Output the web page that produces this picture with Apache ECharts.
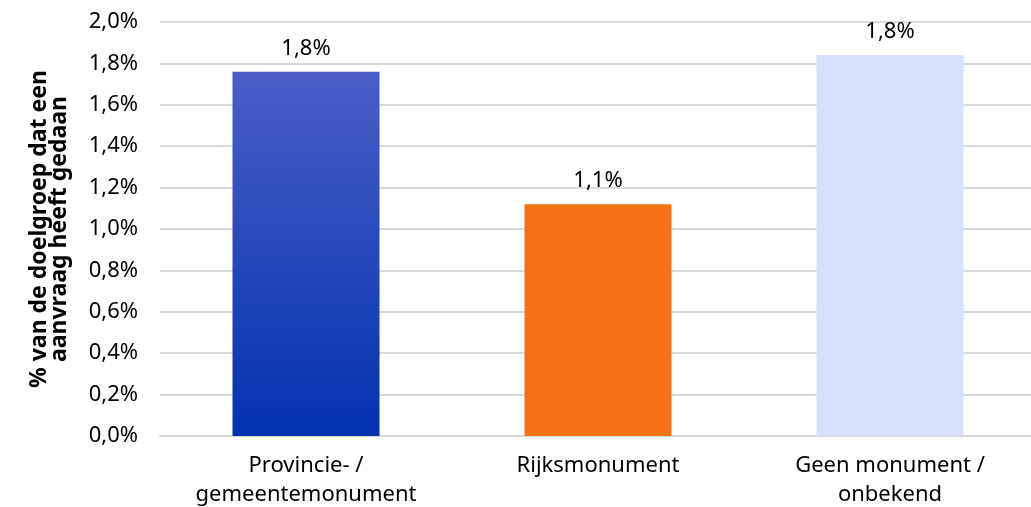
<!DOCTYPE html>
<html>
<head>
<meta charset="utf-8">
<script src="https://cdn.jsdelivr.net/npm/echarts@6/dist/echarts.min.js"></script>
<style>
  html, body { margin: 0; padding: 0; background: #fff; }
  #chart { width: 1031px; height: 507px; }
</style>
</head>
<body>
<div id="chart"></div>
<script>
const chart = echarts.init(document.getElementById('chart'))

const categories = ['Provincie- /\ngemeentemonument', 'Rijksmonument', 'Geen monument /\nonbekend']
const values = [1.76, 1.12, 1.84]
const yTicks = [0, 0.2, 0.4, 0.6, 0.8, 1.0, 1.2, 1.4, 1.6, 1.8, 2.0]

const fmt = (v, d) => v.toFixed(d).replace('.', ',') + '%'
const font = 'Noto Sans'

const barColors = [
  new echarts.graphic.LinearGradient(0, 0, 0, 1, [
    { offset: 0, color: '#4a5ec6' },
    { offset: 1, color: '#0232b0' }
  ]),
  '#f47216',
  '#d6e0fc'
]

let option = {
  backgroundColor: '#fff',
  grid: { left: 160, width: 876, top: 22, height: 414, outerBoundsMode: 'none' },
  xAxis: {
    type: 'category',
    data: categories,
    axisTick: { show: false },
    axisLine: { lineStyle: { color: '#d9d9d9', width: 2 } },
    axisLabel: { color: '#000', fontSize: 22, fontFamily: font, margin: 15, lineHeight: 29 }
  },
  yAxis: {
    type: 'value',
    min: 0,
    max: yTicks[yTicks.length - 1],
    interval: 0.2,
    name: '% van de doelgroep dat een\naanvraag heeft gedaan',
    nameLocation: 'middle',
    nameGap: 91,
    nameTextStyle: { color: '#000', fontSize: 23, fontWeight: 'bold', fontFamily: font, lineHeight: 20 },
    axisLine: { show: false },
    axisTick: { show: false },
    splitLine: { lineStyle: { color: '#d9d9d9', width: 2 } },
    axisLabel: { color: '#000', fontSize: 22, fontFamily: font, margin: 22, formatter: v => fmt(v, 1) }
  },
  series: [{
    type: 'bar',
    barWidth: 147,
    data: values.map((v, i) => ({ value: v, itemStyle: { color: barColors[i] } })),
    label: {
      show: true,
      position: 'top',
      distance: 12,
      color: '#000',
      fontSize: 22,
      fontFamily: font,
      formatter: p => fmt(p.value, 1)
    }
  }]
}
chart.setOption(option)
</script>
</body>
</html>
